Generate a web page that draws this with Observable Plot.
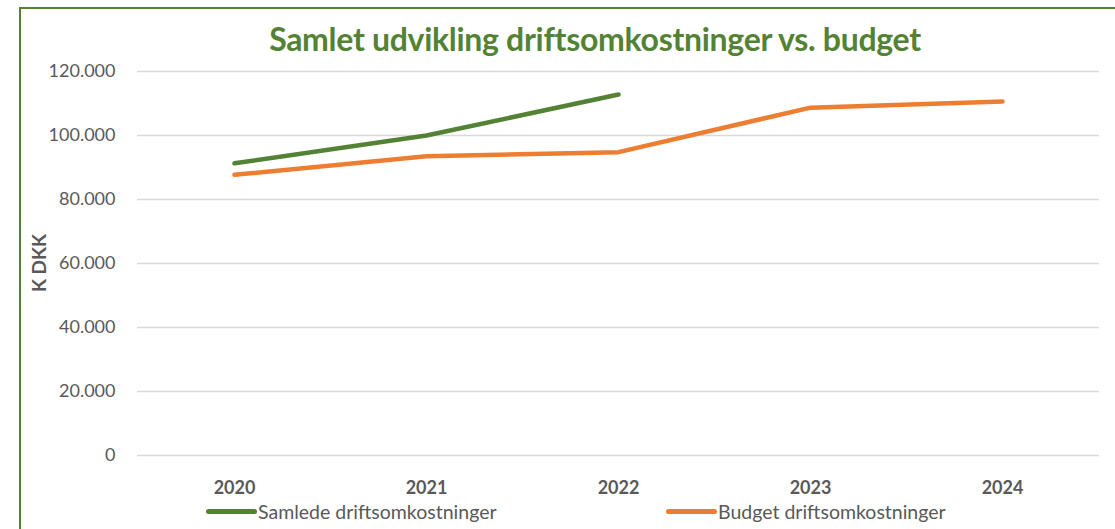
<!DOCTYPE html>
<html>
<head>
<meta charset="utf-8">
<script src="https://cdn.jsdelivr.net/npm/d3@7"></script>
<script src="https://cdn.jsdelivr.net/npm/@observablehq/plot@0.6"></script>
<style>
  html, body { margin: 0; padding: 0; background: #fff; }
  #wrap { position: relative; width: 1115px; height: 529px; overflow: hidden; font-family: Lato, "Open Sans", sans-serif; }
  #frame { position: absolute; left: 19px; top: 7px; width: 1200px; height: 700px; border: 2px solid #548235; box-sizing: border-box; }
  #title { position: absolute; left: 0; width: 1190px; top: 19px; text-align: center; font-size: 32px; font-weight: bold; color: #548235; letter-spacing: -0.3px; }
  #ylabel { position: absolute; left: 38px; top: 263px; transform: translate(-50%, -50%) rotate(-90deg); font-size: 19px; font-weight: bold; color: #595959; white-space: nowrap; }
  #chart { position: absolute; left: 0; top: 0; }
  .leg { position: absolute; top: 500px; font-size: 19.5px; color: #595959; display: flex; align-items: center; white-space: nowrap; }
  .leg span.sw { display: inline-block; width: 51px; height: 5px; border-radius: 3px; margin-right: 1px; }
</style>
</head>
<body>
<div id="wrap">
  <div id="frame"></div>
  <div id="chart"></div>
  <div id="title"></div>
  <div id="ylabel"></div>
  <div id="legend"></div>
</div>
<script>
const titleText = "Samlet udvikling driftsomkostninger vs. budget";
const yLabel = "K DKK";
const years = ["2020", "2021", "2022", "2023", "2024"];
const seriesNames = ["Samlede driftsomkostninger", "Budget driftsomkostninger"];
const seriesColors = ["#548235", "#ED7D31"];
const actual = [91300, 100000, 112800, null, null];
const budget = [87700, 93500, 94800, 108700, 110600];
const yTicks = [0, 20000, 40000, 60000, 80000, 100000, 120000];

const rows = [];
[actual, budget].forEach((vals, si) => {
  vals.forEach((v, i) => { if (v != null) rows.push({year: years[i], value: v, series: seriesNames[si]}); });
});

const locale = d3.formatLocale({decimal: ",", thousands: ".", grouping: [3], currency: ["", " kr."]});
const fmt = locale.format(",d");

document.getElementById("title").textContent = titleText;
document.getElementById("ylabel").textContent = yLabel;

const plot = Plot.plot({
  width: 1115,
  height: 529,
  marginLeft: 137,
  marginRight: 16,
  marginTop: 71,
  marginBottom: 74,
  style: {fontFamily: "Lato, 'Open Sans', sans-serif", background: "transparent"},
  x: {type: "point", domain: years, padding: 0.5, label: null},
  y: {domain: [0, 120000], label: null},
  color: {domain: seriesNames, range: seriesColors},
  marks: [
    Plot.gridY(yTicks, {stroke: "#d9d9d9", strokeOpacity: 1, strokeWidth: 1.5}),
    Plot.axisY(yTicks, {tickSize: 0, tickPadding: 22, tickFormat: fmt, fontSize: 18, fill: "#595959", label: null}),
    Plot.axisX(years, {tickSize: 0, tickPadding: 26, fontSize: 18, fontWeight: "bold", fill: "#595959", label: null}),
    Plot.line(rows, {x: "year", y: "value", z: "series", stroke: "series", strokeWidth: 4.5, strokeLinecap: "round", strokeLinejoin: "round"})
  ]
});
document.getElementById("chart").appendChild(plot);

const legend = document.getElementById("legend");
const legLefts = [206, 666];
seriesNames.forEach((n, i) => {
  const d = document.createElement("div");
  d.className = "leg";
  d.style.left = legLefts[i] + "px";
  const sw = document.createElement("span");
  sw.className = "sw";
  sw.style.background = seriesColors[i];
  d.appendChild(sw);
  const t = document.createElement("span");
  t.textContent = n;
  d.appendChild(t);
  legend.appendChild(d);
});
</script>
</body>
</html>
